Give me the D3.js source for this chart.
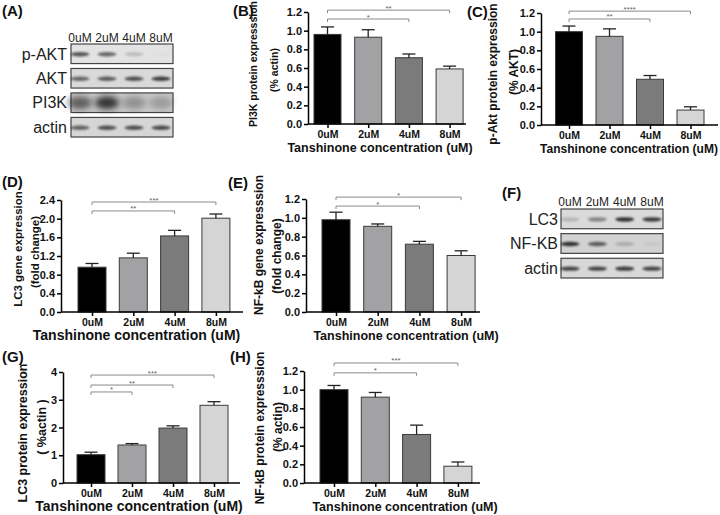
<!DOCTYPE html>
<html>
<head>
<meta charset="utf-8">
<script src="https://cdn.jsdelivr.net/npm/d3@7"></script>
<style>
  html, body { margin: 0; padding: 0; background: #fff; }
  svg { display: block; }
  text { font-family: "Liberation Sans", Arial, sans-serif; }
</style>
</head>
<body>
<svg id="chart" width="720" height="515"></svg>
<script>
// ---------------- DATA ----------------
const categories = ["0uM", "2uM", "4uM", "8uM"];
const barColors = ["#000000", "#a2a2a5", "#7b7b7b", "#d5d5d5"];
const xTitle = "Tanshinone concentration (uM)";

// (B) PI3K protein expression (% actin)
const pi3kMean = [0.96, 0.93, 0.71, 0.59];
const pi3kErr  = [0.08, 0.08, 0.04, 0.03];
// (C) p-Akt protein expression (% AKT)
const paktMean = [1.00, 0.95, 0.49, 0.16];
const paktErr  = [0.06, 0.08, 0.04, 0.035];
// (D) LC3 gene expression (fold change)
const lc3GeneMean = [0.96, 1.16, 1.63, 2.01];
const lc3GeneErr  = [0.08, 0.10, 0.12, 0.09];
// (E) NF-kB gene expression (fold change)
const nfkbGeneMean = [0.98, 0.91, 0.72, 0.60];
const nfkbGeneErr  = [0.08, 0.025, 0.03, 0.05];
// (G) LC3 protein expression (% actin)
const lc3ProtMean = [1.02, 1.37, 1.98, 2.80];
const lc3ProtErr  = [0.09, 0.05, 0.08, 0.13];
// (H) NF-kB protein expression (% actin)
const nfkbProtMean = [1.00, 0.92, 0.52, 0.18];
const nfkbProtErr  = [0.045, 0.05, 0.10, 0.045];

// tick values
const ticks12 = [0, 0.2, 0.4, 0.6, 0.8, 1.0, 1.2];
const ticks24 = [0, 0.4, 0.8, 1.2, 1.6, 2.0, 2.4];
const ticks4  = [0, 1, 2, 3, 4];

// significance brackets: [from, to, label, level (data units)]
const sigB = [["0uM", "4uM", "*", 1.125], ["0uM", "8uM", "**", 1.22]];
const sigC = [["0uM", "4uM", "**", 1.136], ["0uM", "8uM", "****", 1.22]];
const sigD = [["0uM", "4uM", "**", 2.165], ["0uM", "8uM", "***", 2.357]];
const sigE = [["0uM", "4uM", "*", 1.125], ["0uM", "8uM", "*", 1.22]];
const sigG = [["0uM", "2uM", "*", 3.28], ["0uM", "4uM", "**", 3.53], ["0uM", "8uM", "***", 3.89]];
const sigH = [["0uM", "4uM", "*", 1.18], ["0uM", "8uM", "***", 1.286]];

// western blot band intensities (0..1), per lane
const blotARows  = ["p-AKT", "AKT", "PI3K", "actin"];
const paktBand   = [0.70, 0.62, 0.18, 0.02];
const aktBand    = [0.60, 0.65, 0.72, 0.82];
const pi3kBand   = [0.62, 0.88, 0.32, 0.26];
const actinBandA = [0.62, 0.72, 0.72, 0.74];
const blotFRows  = ["LC3", "NF-KB", "actin"];
const lc3Band    = [0.18, 0.45, 0.90, 0.85];
const nfkbBand   = [0.88, 0.65, 0.20, 0.05];
const actinBandF = [0.78, 0.78, 0.84, 0.78];

// ---------------- DRAW ----------------
const svg = d3.select("#chart");
const defs = svg.append("defs");
defs.append("filter").attr("id", "blur1").attr("x", "-50%").attr("y", "-100%").attr("width", "200%").attr("height", "300%")
  .append("feGaussianBlur").attr("stdDeviation", 1.3);
defs.append("filter").attr("id", "blur3").attr("x", "-50%").attr("y", "-100%").attr("width", "200%").attr("height", "300%")
  .append("feGaussianBlur").attr("stdDeviation", 3.2);

const panels = [
  {mean: pi3kMean, err: pi3kErr, ticks: ticks12, fmt: ".1f", max: 1.2, sig: sigB,
   xa: 308, xe: 466, y0: 124, yt: 12, c0: 327.5, step: 40.7, bw: 27,
   ylab: ["PI3K protein expresssion", "(% actin)"], ylx: [253, 274], yly: [64, 70], yfs: 10.5,
   tx: 380, tfs: 12.5},
  {mean: paktMean, err: paktErr, ticks: ticks12, fmt: ".1f", max: 1.2, sig: sigC,
   xa: 541, xe: 718, y0: 125, yt: 13, c0: 569, step: 40.5, bw: 27,
   ylab: ["p-Akt protein expression", "(% AKT)"], ylx: [493, 514], yly: [74, 72], yfs: 12,
   tx: 629, tfs: 12},
  {mean: lc3GeneMean, err: lc3GeneErr, ticks: ticks24, fmt: ".1f", max: 2.4, sig: sigD,
   xa: 61, xe: 243, y0: 312, yt: 200, c0: 92, step: 41.3, bw: 28,
   ylab: ["LC3 gene expression", "(fold change)"], ylx: [18, 35], yly: [249, 252], yfs: 11.5,
   tx: 136.5, tfs: 14},
  {mean: nfkbGeneMean, err: nfkbGeneErr, ticks: ticks12, fmt: ".1f", max: 1.2, sig: sigE,
   xa: 306, xe: 480, y0: 312, yt: 199, c0: 336, step: 41.7, bw: 28,
   ylab: ["NF-kB gene expresssion", "(fold change)"], ylx: [259, 277], yly: [245, 256], yfs: 12,
   tx: 406, tfs: 12.5},
  {mean: lc3ProtMean, err: lc3ProtErr, ticks: ticks4, fmt: "d", max: 4, sig: sigG,
   xa: 63, xe: 240, y0: 483, yt: 372, c0: 91, step: 41, bw: 28,
   ylab: ["LC3 protein expression", "( %actin )"], ylx: [23, 42], yly: [433, 427], yfs: 12.5,
   tx: 139, tfs: 14},
  {mean: nfkbProtMean, err: nfkbProtErr, ticks: ticks12, fmt: ".1f", max: 1.2, sig: sigH,
   xa: 304, xe: 480, y0: 483, yt: 371, c0: 334, step: 41.3, bw: 28,
   ylab: ["NF-kB protein expresssion", "(% actin)"], ylx: [260, 278], yly: [428, 427], yfs: 12,
   tx: 405, tfs: 12.5}
];

panels.forEach(p => {
  const g = svg.append("g");
  const x = d3.scalePoint().domain(categories).range([p.c0, p.c0 + 3 * p.step]);
  const y = d3.scaleLinear().domain([0, p.max]).range([p.y0, p.yt]);

  // bars
  g.selectAll("rect.bar").data(categories).join("rect")
    .attr("class", "bar")
    .attr("x", d => x(d) - p.bw / 2)
    .attr("width", p.bw)
    .attr("y", (d, i) => y(p.mean[i]))
    .attr("height", (d, i) => y(0) - y(p.mean[i]))
    .attr("fill", (d, i) => barColors[i])
    .attr("stroke", "#3a3a3a").attr("stroke-width", 1);

  // error bars (upper)
  g.selectAll("line.eb").data(categories).join("line")
    .attr("class", "eb")
    .attr("x1", d => x(d)).attr("x2", d => x(d))
    .attr("y1", (d, i) => y(p.mean[i])).attr("y2", (d, i) => y(p.mean[i] + p.err[i]))
    .attr("stroke", "#222").attr("stroke-width", 1.3);
  g.selectAll("line.cap").data(categories).join("line")
    .attr("class", "cap")
    .attr("x1", d => x(d) - 6.5).attr("x2", d => x(d) + 6.5)
    .attr("y1", (d, i) => y(p.mean[i] + p.err[i])).attr("y2", (d, i) => y(p.mean[i] + p.err[i]))
    .attr("stroke", "#222").attr("stroke-width", 1.3);

  // y axis
  const ya = g.append("g").attr("transform", `translate(${p.xa},0)`)
    .call(d3.axisLeft(y).tickValues(p.ticks).tickFormat(d3.format(p.fmt)).tickSize(4).tickSizeOuter(0).tickPadding(2));
  ya.select(".domain").attr("stroke", "#000").attr("stroke-width", 1.5);
  ya.selectAll(".tick line").attr("stroke", "#000").attr("stroke-width", 1.5);
  ya.selectAll(".tick text").attr("font-family", "Liberation Sans, Arial, sans-serif")
    .attr("font-weight", "bold").attr("font-size", 11).attr("fill", "#111");

  // x axis
  const xaG = g.append("g").attr("transform", `translate(0,${p.y0})`)
    .call(d3.axisBottom(x).tickSize(4).tickSizeOuter(0).tickPadding(3));
  xaG.select(".domain").remove();
  xaG.append("line").attr("x1", p.xa).attr("x2", p.xe).attr("y1", 0).attr("y2", 0)
    .attr("stroke", "#000").attr("stroke-width", 1.5);
  xaG.selectAll(".tick line").attr("stroke", "#000").attr("stroke-width", 1.5);
  xaG.selectAll(".tick text").attr("font-family", "Liberation Sans, Arial, sans-serif")
    .attr("font-weight", "bold").attr("font-size", 10.5).attr("fill", "#111").attr("dy", "0.71em");

  // x title
  g.append("text").attr("x", p.tx).attr("y", p.y0 + 28)
    .attr("text-anchor", "middle").attr("font-weight", "bold").attr("font-size", p.tfs)
    .attr("fill", "#111").text(xTitle);

  // y label (two lines)
  p.ylab.forEach((t, i) => {
    g.append("text")
      .attr("transform", `translate(${p.ylx[i]},${p.yly[i]}) rotate(-90)`)
      .attr("text-anchor", "middle").attr("dy", "0.35em")
      .attr("font-weight", "bold").attr("font-size", p.yfs).attr("fill", "#111")
      .text(t);
  });

  // significance brackets
  p.sig.forEach(s => {
    const x1 = x(s[0]), x2 = x(s[1]), yy = y(s[3]);
    g.append("path")
      .attr("d", `M${x1},${yy + 3}V${yy}H${x2}V${yy + 3}`)
      .attr("fill", "none").attr("stroke", "#8a8a8a").attr("stroke-width", 1);
    g.append("text").attr("x", (x1 + x2) / 2).attr("y", yy + 0.5)
      .attr("text-anchor", "middle").attr("font-size", 8).attr("fill", "#666").text(s[2]);
  });
});

// ---------------- WESTERN BLOTS ----------------
function drawBlot(cfg) {
  const g = svg.append("g");
  const x = d3.scalePoint().domain(categories).range(cfg.laneRange);
  const rows = d3.scaleBand().domain(cfg.rows).range(cfg.rowRange).paddingInner(cfg.gap);
  // headers
  g.selectAll("text.hdr").data(categories).join("text")
    .attr("class", "hdr")
    .attr("x", d => x(d)).attr("y", cfg.hdrY)
    .attr("text-anchor", "middle")
    .attr("font-family", "Liberation Sans Narrow, Arial Narrow, Liberation Sans, sans-serif")
    .attr("font-size", 12).attr("fill", "#222").text(d => d);
  cfg.rows.forEach((r, ri) => {
    const y0 = rows(r), h = rows.bandwidth();
    g.append("rect").attr("x", cfg.box[0]).attr("y", y0).attr("width", cfg.box[1] - cfg.box[0]).attr("height", h)
      .attr("fill", cfg.bg[ri]).attr("stroke", "#444").attr("stroke-width", 1.2);
    const bands = cfg.bands[ri];
    const wide = cfg.wide[ri];
    g.selectAll(null).data(categories).join("ellipse")
      .attr("cx", d => x(d)).attr("cy", y0 + h / 2 + (wide ? 0 : 0.5))
      .attr("rx", wide ? 12 : 9.5).attr("ry", wide ? 6.5 : 2.2)
      .attr("fill", "#1a1a1a")
      .attr("opacity", (d, i) => bands[i])
      .attr("filter", wide ? "url(#blur3)" : "url(#blur1)");
    g.append("text").attr("x", cfg.labelX).attr("y", y0 + h / 2).attr("dy", "0.36em")
      .attr("text-anchor", "end").attr("font-size", 16).attr("fill", "#222").text(r);
  });
}

drawBlot({
  rows: blotARows, laneRange: [80, 161], rowRange: [44, 137], gap: 0.2, box: [71, 173],
  hdrY: 41.5, labelX: 67,
  bg: ["#e3e3e3", "#d9d9d9", "#c9c9c9", "#d6d6d6"],
  bands: [paktBand, aktBand, pi3kBand, actinBandA],
  wide: [false, false, true, false]
});
drawBlot({
  rows: blotFRows, laneRange: [570, 652], rowRange: [209, 278], gap: 0.2, box: [561, 663],
  hdrY: 206, labelX: 558,
  bg: ["#dadada", "#d2d2d2", "#d8d8d8"],
  bands: [lc3Band, nfkbBand, actinBandF],
  wide: [false, false, false]
});

// ---------------- PANEL LETTERS ----------------
const letters = [["(A)", 2, 15.5], ["(B)", 233, 16], ["(C)", 467, 17], ["(D)", 2, 187],
                 ["(E)", 228, 188], ["(F)", 502, 198], ["(G)", 2, 362], ["(H)", 230, 362]];
svg.selectAll("text.letter").data(letters).join("text")
  .attr("class", "letter")
  .attr("x", d => d[1]).attr("y", d => d[2])
  .attr("font-weight", "bold").attr("font-size", 15).attr("fill", "#111")
  .text(d => d[0]);
</script>
</body>
</html>
